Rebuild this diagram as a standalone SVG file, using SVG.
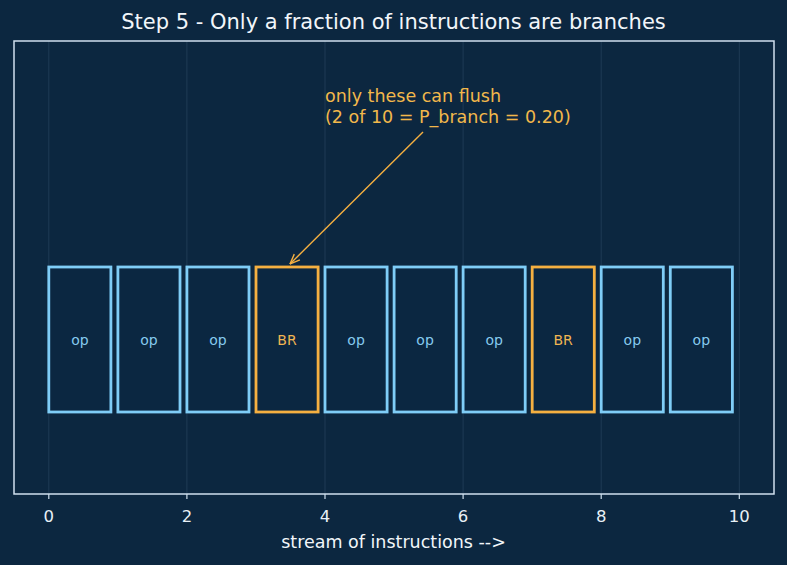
<svg xmlns="http://www.w3.org/2000/svg" width="787" height="565" viewBox="0 0 787 565">
<style>
text{font-family:"DejaVu Sans","Liberation Sans",sans-serif}
.grid{stroke:#23405b;stroke-width:0.8}
.op rect{fill:#0b2741;stroke:#7fcdf7;stroke-width:2.8}
.op text{fill:#86cbef;font-size:14px;text-anchor:middle}
.br rect{fill:#0b2741;stroke:#f5b041;stroke-width:2.8}
.br text{fill:#f0b552;font-size:14px;text-anchor:middle}
.tick{stroke:#cfe0ee;stroke-width:1.2}
.tl{fill:#e8f0f6;font-size:16.5px;text-anchor:middle}
</style>
<defs>
<marker id="ah" viewBox="0 0 10 10" refX="10" refY="5" markerWidth="10" markerHeight="10" markerUnits="userSpaceOnUse" orient="auto">
<path d="M0,1 L10,5 L0,9" fill="none" stroke="#f5b041" stroke-width="1.4"/>
</marker>
</defs>
<rect x="0" y="0" width="787" height="565" fill="#0c2740"/>
<text x="393.5" y="29" font-size="21" fill="#f2f6fa" text-anchor="middle">Step 5 - Only a fraction of instructions are branches</text>
<g id="grid">
<line class="grid" x1="48.8" y1="41" x2="48.8" y2="494"/>
<line class="grid" x1="186.9" y1="41" x2="186.9" y2="494"/>
<line class="grid" x1="325" y1="41" x2="325" y2="494"/>
<line class="grid" x1="463.1" y1="41" x2="463.1" y2="494"/>
<line class="grid" x1="601.2" y1="41" x2="601.2" y2="494"/>
<line class="grid" x1="739.3" y1="41" x2="739.3" y2="494"/>
</g>
<g id="n0" class="op"><rect x="48.8" y="267" width="62.1" height="145"/><text x="79.9" y="345">op</text></g>
<g id="n1" class="op"><rect x="117.9" y="267" width="62.1" height="145"/><text x="148.9" y="345">op</text></g>
<g id="n2" class="op"><rect x="186.9" y="267" width="62.1" height="145"/><text x="218" y="345">op</text></g>
<g id="n3" class="br"><rect x="256" y="267" width="62.1" height="145"/><text x="287" y="345">BR</text></g>
<g id="n4" class="op"><rect x="325" y="267" width="62.1" height="145"/><text x="356.1" y="345">op</text></g>
<g id="n5" class="op"><rect x="394.1" y="267" width="62.1" height="145"/><text x="425.1" y="345">op</text></g>
<g id="n6" class="op"><rect x="463.1" y="267" width="62.1" height="145"/><text x="494.2" y="345">op</text></g>
<g id="n7" class="br"><rect x="532.2" y="267" width="62.1" height="145"/><text x="563.2" y="345">BR</text></g>
<g id="n8" class="op"><rect x="601.2" y="267" width="62.1" height="145"/><text x="632.3" y="345">op</text></g>
<g id="n9" class="op"><rect x="670.3" y="267" width="62.1" height="145"/><text x="701.3" y="345">op</text></g>
<g id="connectors">
<line x1="423" y1="132" x2="290" y2="264" stroke="#f5b041" stroke-width="1.4" marker-end="url(#ah)"/>
</g>
<g id="annotation">
<text x="325" y="102" font-size="17.5" fill="#f2b84b">only these can flush</text>
<text x="325" y="123" font-size="17.5" fill="#f2b84b">(2 of 10 = P_branch = 0.20)</text>
</g>
<rect x="14" y="41" width="760" height="453" fill="none" stroke="#cfe0ee" stroke-width="1.5"/>
<g id="axis">
<line class="tick" x1="48.8" y1="494" x2="48.8" y2="499"/>
<line class="tick" x1="186.9" y1="494" x2="186.9" y2="499"/>
<line class="tick" x1="325" y1="494" x2="325" y2="499"/>
<line class="tick" x1="463.1" y1="494" x2="463.1" y2="499"/>
<line class="tick" x1="601.2" y1="494" x2="601.2" y2="499"/>
<line class="tick" x1="739.3" y1="494" x2="739.3" y2="499"/>
<text class="tl" x="48.8" y="522">0</text>
<text class="tl" x="186.9" y="522">2</text>
<text class="tl" x="325" y="522">4</text>
<text class="tl" x="463.1" y="522">6</text>
<text class="tl" x="601.2" y="522">8</text>
<text class="tl" x="739.3" y="522">10</text>
<text x="393.5" y="548" font-size="17.5" fill="#f2f6fa" text-anchor="middle">stream of instructions --&gt;</text>
</g>
</svg>
